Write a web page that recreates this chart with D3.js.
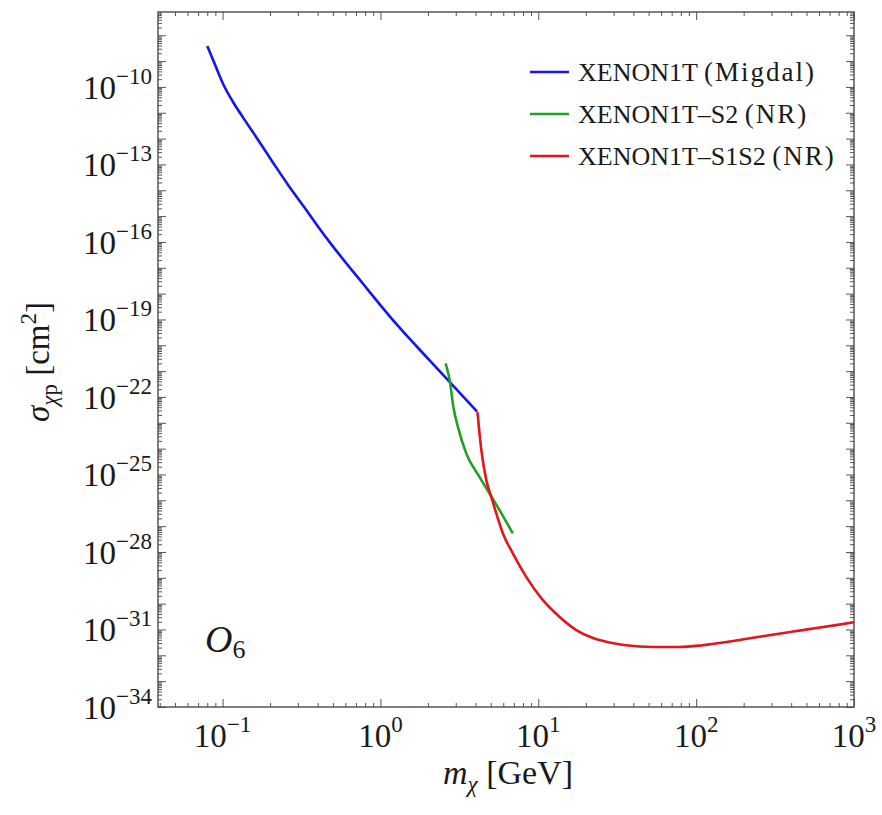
<!DOCTYPE html>
<html>
<head>
<meta charset="utf-8">
<script src="https://cdn.jsdelivr.net/npm/d3@7/dist/d3.min.js"></script>
<style>
body{margin:0;background:#fff;}
text{font-family:"Liberation Serif","Times New Roman",serif;fill:#1a1a1a;}
</style>
</head>
<body>
<div id="chart"></div>
<script>
// (mass in GeV, cross section in cm^2)
var migdalMass  = [0.080, 0.0894, 0.101, 0.117, 0.135, 0.164, 0.209, 0.267, 0.340, 0.413, 0.478, 0.776, 1.26, 2.05, 4.10];
var migdalSigma = [3.85e-9, 7.5e-10, 1.27e-10, 2.5e-11, 6.5e-12, 1.1e-12, 1.17e-13, 1.28e-14, 1.7e-15, 3.16e-16, 9.6e-17, 2.4e-18, 6.7e-20, 2.6e-21, 2.7e-23];

var s2Mass  = [2.59, 2.75, 2.90, 3.10, 3.50, 4.25, 4.92, 5.69, 6.91];
var s2Sigma = [2.0e-21, 4.3e-22, 4.0e-23, 6.8e-24, 6.4e-25, 7.9e-26, 1.8e-26, 4.1e-27, 5.2e-28];

var s1s2Mass  = [4.12, 4.36, 4.69, 5.04, 5.42, 5.97, 6.91, 8.39, 10.7, 13.6, 17.4, 22.2, 28.3, 36, 53, 78, 110, 179, 291, 473, 769, 1000];
var s1s2Sigma = [2.6e-23, 8.5e-25, 5.9e-26, 1.34e-26, 3.1e-27, 5.2e-28, 8.7e-29, 1.09e-29, 1.36e-30, 3.1e-31, 9.5e-32, 4.68e-32, 3.16e-32, 2.45e-32, 2.09e-32, 2.09e-32, 2.45e-32, 3.72e-32, 6.03e-32, 9.46e-32, 1.48e-31, 1.9e-31];

var seriesNames  = ['XENON1T', 'XENON1T\u2013S2', 'XENON1T\u2013S1S2'];
var seriesTags   = ['(Migdal)', '(NR)', '(NR)'];
var seriesColors = ['#1515f0', '#1fa21f', '#e3141b'];

var xLabelExps = [-1, 0, 1, 2, 3];
var yLabelExps = [-10, -13, -16, -19, -22, -25, -28, -31, -34];

var ExclusionPlot = function(container){
    var chart = this;
    var svg, x, y;
    var L = 158, R = 854, T = 12, B = 707;

    function _constructor(){
        _initGraphics();
        chart.update();
    }

    function _logTicks(lo, hi){
        var major = [], minor = [];
        for (var d = Math.floor(Math.log10(lo)); d <= Math.ceil(Math.log10(hi)); d++){
            for (var k = 1; k < 10; k++){
                var v = k * Math.pow(10, d);
                if (v < lo*0.999 || v > hi*1.001) continue;
                if (k == 1) major.push(v); else minor.push(v);
            }
        }
        return {major: major, minor: minor};
    }

    function _sup(sel, base, exp, supSize, shift){
        sel.text(base);
        sel.append('tspan').attr('font-size', supSize).attr('dy', shift)
            .text(String(exp).replace('-', '\u2212'));
    }

    function _initGraphics(){
        svg = d3.select(container).append('svg').attr('width', 882).attr('height', 815);
        svg.append('rect').attr('width', 882).attr('height', 815).attr('fill', '#fff');

        x = d3.scaleLog().domain([0.039, 1000]).range([L, R]);
        y = d3.scaleLog().domain([1e-34, Math.pow(10, -7.1)]).range([B, T]);

        var xt = _logTicks(0.039, 1000);
        var yt = _logTicks(1e-34, Math.pow(10, -7.1));

        var axes = [
            [d3.axisBottom(x), B, 'x'], [d3.axisTop(x), T, 'x'],
            [d3.axisLeft(y), L, 'y'], [d3.axisRight(y), R, 'y']
        ];
        axes.forEach(function(a){
            var t = a[2] == 'x' ? xt : yt;
            [[t.major, 8], [t.minor, 4]].forEach(function(set){
                var g = svg.append('g')
                    .attr('transform', a[2] == 'x' ? 'translate(0,' + a[1] + ')' : 'translate(' + a[1] + ',0)')
                    .call(a[0].tickValues(set[0]).tickSize(-set[1]).tickFormat(''));
                g.select('.domain').remove();
                g.selectAll('line').attr('stroke', '#555').attr('stroke-width', 1);
            });
        });

        svg.append('rect').attr('x', L).attr('y', T).attr('width', R-L).attr('height', B-T)
            .attr('fill', 'none').attr('stroke', '#4a4a4a').attr('stroke-width', 1.4);

        // tick labels
        svg.selectAll('.xlab').data(xLabelExps).enter().append('text').attr('class', 'xlab')
            .attr('x', function(d){ return x(Math.pow(10, d)); }).attr('y', 747)
            .attr('text-anchor', 'middle').attr('font-size', 33)
            .each(function(d){ _sup(d3.select(this), '10', d, 23, -15); });

        svg.selectAll('.ylab').data(yLabelExps).enter().append('text').attr('class', 'ylab')
            .attr('x', 152).attr('y', function(d){ return y(Math.pow(10, d)) + 12; })
            .attr('text-anchor', 'end').attr('font-size', 33)
            .each(function(d){ _sup(d3.select(this), '10', d, 23, -15); });

        // axis titles
        var xt1 = svg.append('text').attr('x', 508).attr('y', 784).attr('text-anchor', 'middle').attr('font-size', 34);
        xt1.append('tspan').attr('font-style', 'italic').text('m');
        xt1.append('tspan').attr('font-style', 'italic').attr('font-size', 23).attr('dy', 8).text('\u03c7');
        xt1.append('tspan').attr('dy', -8).text(' [GeV]');

        var yt1 = svg.append('text').attr('transform', 'translate(49,362) rotate(-90)')
            .attr('text-anchor', 'middle').attr('font-size', 33);
        yt1.append('tspan').attr('font-style', 'italic').text('\u03c3');
        yt1.append('tspan').attr('font-size', 23).attr('dy', 8).attr('font-style', 'italic').text('\u03c7');
        yt1.append('tspan').attr('font-size', 23).text('p');
        yt1.append('tspan').attr('dy', -8).text(' [cm');
        yt1.append('tspan').attr('font-size', 23).attr('dy', -13).text('2');
        yt1.append('tspan').attr('dy', 13).text(']');

        // operator label
        var op = svg.append('text').attr('x', 205).attr('y', 652).attr('font-size', 38);
        op.append('tspan').attr('font-style', 'italic').text('O');
        op.append('tspan').attr('font-size', 26).attr('dy', 6).text('6');

        chart.lines = svg.append('g');
        chart.legend = svg.append('g');
    }

    chart.update = function(){
        var data = [
            d3.zip(migdalMass, migdalSigma),
            d3.zip(s2Mass, s2Sigma),
            d3.zip(s1s2Mass, s1s2Sigma)
        ];
        var line = d3.line()
            .x(function(d){ return x(d[0]); })
            .y(function(d){ return y(d[1]); })
            .curve(d3.curveMonotoneX);

        chart.lines.selectAll('path').data(data).join('path')
            .attr('fill', 'none').attr('stroke-width', 2.6).attr('stroke-linejoin', 'round')
            .attr('stroke', function(d, i){ return seriesColors[i]; })
            .attr('d', line);

        var rows = chart.legend.selectAll('g').data(seriesNames).join('g')
            .attr('transform', function(d, i){ return 'translate(0,' + (72 + i*42) + ')'; });
        rows.append('line').attr('x1', 530).attr('x2', 569)
            .attr('stroke', function(d, i){ return seriesColors[i]; }).attr('stroke-width', 2.6);
        rows.append('text').attr('x', 578).attr('y', 9).attr('font-size', 26)
            .each(function(d, i){
                var t = d3.select(this);
                t.append('tspan').text(d + ' ');
                t.append('tspan').attr('font-size', 27).attr('letter-spacing', 2).text(seriesTags[i]);
            });
    };

    _constructor();
    return chart;
};

new ExclusionPlot(document.getElementById('chart'));
</script>
</body>
</html>
